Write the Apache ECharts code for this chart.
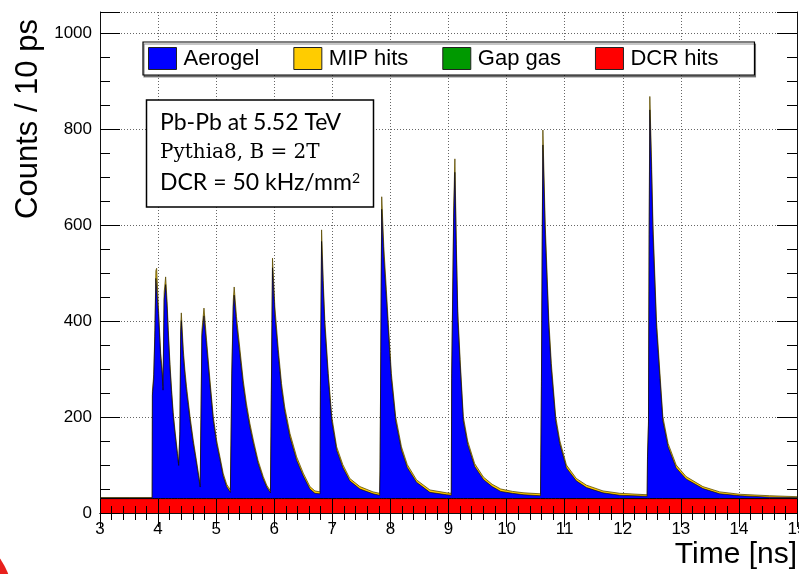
<!DOCTYPE html>
<html>
<head>
<meta charset="utf-8">
<script src="https://cdn.jsdelivr.net/npm/echarts@6/dist/echarts.min.js"></script>
<style>html,body{margin:0;padding:0;background:#fff}#c{width:799px;height:574px}</style>
</head>
<body>
<div id="c"></div>
<script>
// ---- data (time in ns, counts per 10 ps) ----
const times = [
 3.00,3.50,3.898,3.902,3.925,3.945,3.962,3.975,4.005,4.045,4.07,4.085,
 4.105,4.13,4.155,4.176,4.205,4.233,4.26,4.29,4.335,4.355,4.375,4.39,
 4.40,4.434,4.46,4.49,4.55,4.605,4.66,4.70,4.725,4.742,4.755,4.79,
 4.835,4.893,4.95,5.007,5.065,5.12,5.18,5.245,5.262,5.27,5.295,5.31,
 5.35,5.41,5.465,5.52,5.58,5.64,5.72,5.81,5.87,5.935,5.945,5.95,
 5.97,6.01,6.07,6.125,6.18,6.27,6.385,6.50,6.614,6.70,6.788,6.795,
 6.815,6.843,6.87,6.93,6.99,7.074,7.18,7.30,7.475,7.70,7.815,7.822,
 7.835,7.85,7.886,7.93,7.96,8.016,8.09,8.19,8.29,8.45,8.68,8.97,
 9.048,9.055,9.09,9.11,9.135,9.16,9.20,9.255,9.33,9.45,9.60,9.75,
 9.90,10.10,10.30,10.585,10.59,10.60,10.615,10.625,10.665,10.727,10.77,10.845,
 10.914,11.03,11.20,11.375,11.66,11.95,12.42,12.426,12.443,12.455,12.466,12.494,
 12.52,12.58,12.64,12.69,12.78,12.92,13.09,13.38,13.67,14.02,14.53,15.00
];
const dcrHits = [
 30,30,30,30,30,30,30,30,30,30,30,30,
 30,30,30,30,30,30,30,30,30,30,30,30,
 30,30,30,30,30,30,30,30,30,30,30,30,
 30,30,30,30,30,30,30,30,30,30,30,30,
 30,30,30,30,30,30,30,30,30,30,30,30,
 30,30,30,30,30,30,30,30,30,30,30,30,
 30,30,30,30,30,30,30,30,30,30,30,30,
 30,30,30,30,30,30,30,30,30,30,30,30,
 30,30,30,30,30,30,30,30,30,30,30,30,
 30,30,30,30,30,30,30,30,30,30,30,30,
 30,30,30,30,30,30,30,30,30,30,30,30,
 30,30,30,30,30,30,30,30,30,30,30,30
];
const aerogel = [
 1.5,1.5,1.5,215,249,338,459,463,386,292,260,226,
 415,446,397,339,270,217,172,136,88,69,134,348,
 371,298,259,223,163,115,74,43,24,21,339,381,
 317,237,163,115,81,47,25,13,13,260,400,424,
 365,298,237,190,149,115,74,41,24,12,12,217,
 481,384,298,230,182,128,80,47,20,11,10,225,
 536,437,358,250,162,101,65,37,20,10,7,61,
 307,603,504,418,358,250,162,101,65,34,13,8,
 7,250,586,680,510,374,278,162,113,67,40,25,
 15,11,8,6,85,234,552,737,550,357,270,162,
 115,64,37,23,12,7,5,82,153,550,810,686,
 550,357,250,162,108,64,41,21,10,6,3,2
];
const mipHits = [
 0.5,0.5,0.5,8,9,12,16,17,14,11,10,9,
 15,16,13,12,10,9,8,7,6,5,6,12,
 16,12,11,10,8,7,6,5,4,4,12,16,
 13,10,8,7,6,6,5,5,5,10,14,17,
 14,12,10,9,8,7,6,5,4,4,4,9,
 20,16,12,10,9,8,7,6,5,5,4,10,
 24,18,15,11,9,7,6,5,5,4,4,5,
 13,26,21,17,15,11,9,7,6,5,5,4,
 4,10,24,28,20,16,12,9,7,6,5,5,
 5,4,4,4,6,10,22,31,22,15,12,9,
 7,6,5,5,4,4,3,5,7,20,28,26,
 22,15,11,9,7,6,5,4,4,3,3,2
];
const gapGas = [];            // no visible contribution in the picture
const xTicks = [3,4,5,6,7,8,9,10,11,12,13,14,15];
const yTickLabels = [0,200,400,600,800,1000];

// ---- stacked table built from the component arrays ----
const dcrTop = times.map((t,i)=>[t, dcrHits[i]]);
const aeroTop = times.map((t,i)=>[t, dcrHits[i]+aerogel[i]]);
const mipTop = times.map((t,i)=>[t, dcrHits[i]+aerogel[i]+mipHits[i]]);

const FONT = '"Liberation Sans", Arial, Helvetica, sans-serif';
const X_MIN = xTicks[0], X_MAX = xTicks[xTicks.length-1];
const Y_MAX = 1044;

const chart = echarts.init(document.getElementById('c'), null, {renderer:'canvas'});

function xAx(extra){
  return Object.assign({type:'value', min:X_MIN, max:X_MAX, interval:1,
    axisLine:{show:false}, axisTick:{show:false}, axisLabel:{show:false},
    splitLine:{show:false}, minorTick:{show:false}}, extra);
}
function yAx(extra){
  return Object.assign({type:'value', min:0, max:Y_MAX, interval:200,
    axisLine:{show:false}, axisTick:{show:false}, axisLabel:{show:false},
    splitLine:{show:false}, minorTick:{show:false}}, extra);
}
const frameLine = {show:true, lineStyle:{color:'#111', width:1}};
const grid = {lineStyle:{color:'#666', width:1, type:[1,2]}};

const option = {
  animation:false,
  grid:{left:100, right:2, top:12, bottom:61, containLabel:false, outerBoundsMode:'none'},
  xAxis:[
    xAx({position:'bottom', z:0, splitLine:Object.assign({show:true}, grid),
      axisLabel:{show:true, margin:8, color:'#000', fontFamily:FONT, fontSize:17,
        formatter: v => xTicks.indexOf(v) >= 0 ? String(v) : ''}}),
    xAx({position:'bottom', z:10, axisLine:frameLine,
      axisTick:{show:true, inside:true, length:14, lineStyle:{color:'#000', width:1}},
      minorTick:{show:true, splitNumber:5, length:7, lineStyle:{color:'#000', width:1}}}),
    xAx({position:'top', z:10, axisLine:frameLine,
      axisTick:{show:true, inside:true, length:14, lineStyle:{color:'#000', width:1}},
      minorTick:{show:true, splitNumber:5, length:7, lineStyle:{color:'#000', width:1}}})
  ],
  yAxis:[
    yAx({position:'left', z:0, splitLine:Object.assign({show:true}, grid),
      axisLabel:{show:true, margin:8, color:'#000', fontFamily:FONT, fontSize:17,
        showMaxLabel:false,
        formatter: v => yTickLabels.indexOf(v) >= 0 ? String(v) : ''}}),
    yAx({position:'left', z:10, axisLine:frameLine,
      axisTick:{show:true, inside:true, length:20, lineStyle:{color:'#000', width:1}}}),
    yAx({position:'left', z:10, interval:50,
      axisTick:{show:true, inside:true, length:10, lineStyle:{color:'#000', width:1}}}),
    yAx({position:'right', z:10, axisLine:frameLine,
      axisTick:{show:true, inside:true, length:20, lineStyle:{color:'#000', width:1}}}),
    yAx({position:'right', z:10, interval:50,
      axisTick:{show:true, inside:true, length:10, lineStyle:{color:'#000', width:1}}})
  ],
  legend:{
    left:143, top:42, orient:'horizontal', selectedMode:false,
    itemWidth:28, itemHeight:22, itemGap:34, padding:[5,36,5,5],
    backgroundColor:'#fff', borderColor:'#000', borderWidth:1.2,
    shadowColor:'rgba(0,0,0,0.45)', shadowOffsetX:1, shadowOffsetY:2, shadowBlur:0,
    icon:'rect',
    textStyle:{fontFamily:FONT, fontSize:22, color:'#000', padding:[0,0,0,2]},
    data:[
      {name:'Aerogel', itemStyle:{color:'#0000ff', borderColor:'#222', borderWidth:1}},
      {name:'MIP hits', itemStyle:{color:'#ffcc00', borderColor:'#222', borderWidth:1}},
      {name:'Gap gas', itemStyle:{color:'#009900', borderColor:'#222', borderWidth:1}},
      {name:'DCR hits', itemStyle:{color:'#ff0000', borderColor:'#222', borderWidth:1}}
    ]
  },
  series:[
    {name:'MIP hits', type:'line', data:mipTop, z:2, symbol:'none', silent:true,
      color:'#ffcc00', lineStyle:{color:'#5a4a00', width:0.8}, areaStyle:{color:'#ffcc00', opacity:1}},
    {name:'Aerogel', type:'line', data:aeroTop, z:3, symbol:'none', silent:true,
      color:'#0000ff', lineStyle:{color:'#000', width:0.6}, areaStyle:{color:'#0000ff', opacity:1}},
    {name:'Gap gas', type:'line', data:gapGas, z:4, symbol:'none', silent:true,
      color:'#009900', lineStyle:{color:'#000', width:1}, areaStyle:{color:'#009900', opacity:1}},
    {name:'DCR hits', type:'line', data:dcrTop, z:5, symbol:'none', silent:true,
      color:'#ff0000', lineStyle:{color:'#000', width:1}, areaStyle:{color:'#ff0000', opacity:1}}
  ],
  graphic:[
    {type:'text', z:100, x:28, y:119, rotation:Math.PI/2,
      style:{text:'Counts / 10 ps', font:'31px ' + FONT, fill:'#000', align:'center', verticalAlign:'middle'}},
    {type:'text', z:100, x:797, y:555,
      style:{text:'Time [ns]', font:'30px ' + FONT, fill:'#000', align:'right', verticalAlign:'middle'}},
    {type:'rect', z:100, shape:{x:146.5, y:100, width:227, height:107},
      style:{fill:'#fff', stroke:'#000', lineWidth:1.5}},
    {type:'text', z:101, x:160, y:123,
      style:{text:'Pb-Pb at 5.52 TeV', font:'23px Lato, "Open Sans", sans-serif', fill:'#000', align:'left', verticalAlign:'middle'}},
    {type:'text', z:101, x:160, y:153,
      style:{text:'Pythia8, B = 2T', font:'20px "DejaVu Serif", serif', fill:'#000', align:'left', verticalAlign:'middle'}},
    {type:'text', z:101, x:160, y:183,
      style:{text:'{a|DCR = 50 kHz/mm}{s|2}', align:'left', verticalAlign:'middle', fill:'#000',
        rich:{a:{font:'23px Lato, "Open Sans", sans-serif', fill:'#000', verticalAlign:'bottom'},
              s:{font:'14px Lato, "Open Sans", sans-serif', fill:'#000', verticalAlign:'top'}}}},
    {type:'circle', z:100, shape:{cx:-60, cy:600, r:73}, style:{fill:'#e8201c'}}
  ]
};
chart.setOption(option);
</script>
</body>
</html>
